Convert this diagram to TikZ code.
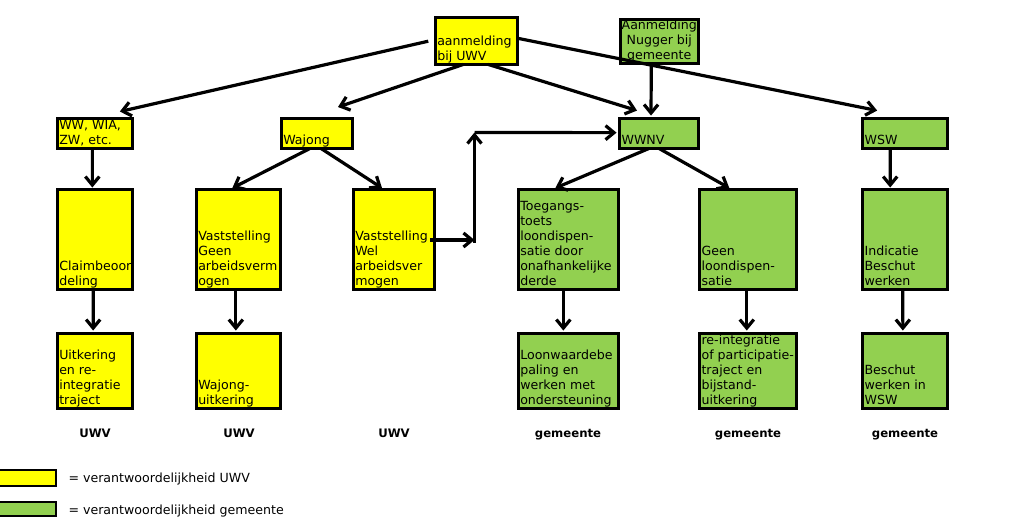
\documentclass[tikz,border=0pt]{standalone}
\usepackage{fontspec}
\setmainfont{DejaVu Sans}
\usetikzlibrary{arrows.meta}
\definecolor{uwv}{RGB}{255,255,0}
\definecolor{gem}{RGB}{146,208,80}
\newcommand\ldp{\rule[-4pt]{0pt}{0pt}}
\begin{document}
\begin{tikzpicture}[x=1pt,y=-1pt,
  box/.style={draw=black, line width=2.9pt, inner sep=0pt, outer sep=0pt},
  ybox/.style={box, fill=uwv},
  gbox/.style={box, fill=gem},
  txt/.style={inner sep=0pt, outer sep=0pt, align=left, text=black,
    font=\fontsize{12.6}{15}\selectfont},
  lbl/.style={inner sep=0pt, font=\fontsize{11.7}{14}\selectfont\bfseries},
  conn/.style={draw=black, line width=3.2pt,
    -{Straight Barb[length=8.5pt,width=14pt]}}
]
\useasboundingbox (0,0) rectangle (1020,518);

% boxes
\node[ybox, minimum width=82pt, minimum height=46.5pt] (aan) at (476.25,41.2) {};
\node[gbox, minimum width=77.5pt, minimum height=44.2pt] (nug) at (659.3,41.65) {};
\node[ybox, minimum width=75.2pt, minimum height=29.9pt] (ww) at (94.85,133.5) {};
\node[ybox, minimum width=71.5pt, minimum height=29.9pt] (waj) at (317,133.5) {};
\node[gbox, minimum width=78.9pt, minimum height=29.9pt] (wwnv) at (659,133.5) {};
\node[gbox, minimum width=85.2pt, minimum height=29.9pt] (wsw) at (905.15,133.5) {};
\node[ybox, minimum width=74.8pt, minimum height=99.9pt] (claim) at (94.65,239.5) {};
\node[ybox, minimum width=84.2pt, minimum height=99.9pt] (vgeen) at (238.35,239.5) {};
\node[ybox, minimum width=81.5pt, minimum height=99.9pt] (vwel) at (394,239.5) {};
\node[gbox, minimum width=100.2pt, minimum height=99.9pt] (toeg) at (568.35,239.5) {};
\node[gbox, minimum width=96.5pt, minimum height=99.9pt] (geen) at (747.8,239.5) {};
\node[gbox, minimum width=84.5pt, minimum height=99.9pt] (indic) at (904.8,239.5) {};
\node[ybox, minimum width=75.2pt, minimum height=74.9pt] (uitk) at (94.85,371) {};
\node[ybox, minimum width=84.2pt, minimum height=74.9pt] (wuitk) at (238.35,371) {};
\node[gbox, minimum width=100.2pt, minimum height=74.9pt] (loon) at (568.35,371) {};
\node[gbox, minimum width=96.9pt, minimum height=74.9pt] (reint) at (748,371) {};
\node[gbox, minimum width=85.2pt, minimum height=74.9pt] (besch) at (905.15,371) {};

% texts
\node[txt, anchor=south west] (aant) at ([xshift=2pt]aan.south west) {aanmelding\\bij UWV\ldp};
\node[txt, align=center, anchor=south] (nugt) at (nug.south) {Aanmelding\\Nugger bij\\gemeente\ldp};
\node[txt, anchor=south west] (wwt) at ([xshift=2pt]ww.south west) {WW, WIA,\\ZW, etc.\ldp};
\node[txt, anchor=south west] (wajt) at ([xshift=2pt]waj.south west) {Wajong\ldp};
\node[txt, anchor=south west] (wwnvt) at ([xshift=2pt]wwnv.south west) {WWNV\ldp};
\node[txt, anchor=south west] (wswt) at ([xshift=2pt]wsw.south west) {WSW\ldp};
\node[txt, anchor=south west] (claimt) at ([xshift=2pt]claim.south west) {Claimbeoor\\deling\ldp};
\node[txt, anchor=south west] (vgeent) at ([xshift=2pt]vgeen.south west) {Vaststelling\\Geen\\arbeidsverm\\ogen\ldp};
\node[txt, anchor=south west] (vwelt) at ([xshift=2pt]vwel.south west) {Vaststelling\\Wel\\arbeidsver\\mogen\ldp};
\node[txt, anchor=south west] (toegt) at ([xshift=2pt]toeg.south west) {Toegangs-\\toets\\loondispen-\\satie door\\onafhankelijke\\derde\ldp};
\node[txt, anchor=south west] (geent) at ([xshift=2pt]geen.south west) {Geen\\loondispen-\\satie\ldp};
\node[txt, anchor=south west] (indict) at ([xshift=2pt]indic.south west) {Indicatie\\Beschut\\werken\ldp};
\node[txt, anchor=south west] (uitkt) at ([xshift=2pt]uitk.south west) {Uitkering\\en re-\\integratie\\traject\ldp};
\node[txt, anchor=south west] (wuitkt) at ([xshift=2pt]wuitk.south west) {Wajong-\\uitkering\ldp};
\node[txt, anchor=south west] (loont) at ([xshift=2pt]loon.south west) {Loonwaardebe\\paling en\\werken met\\ondersteuning\ldp};
\node[txt, anchor=south west] (reintt) at ([xshift=2pt]reint.south west) {re-integratie\\of participatie-\\traject en\\bijstand-\\uitkering\ldp};
\node[txt, anchor=south west] (bescht) at ([xshift=2pt]besch.south west) {Beschut\\werken in\\WSW\ldp};

% column labels
\node[lbl, anchor=base] (l1) at (95,437) {UWV};
\node[lbl, anchor=base] (l2) at (239,437) {UWV};
\node[lbl, anchor=base] (l3) at (394,437) {UWV};
\node[lbl, anchor=base] (l4) at (568,437) {gemeente};
\node[lbl, anchor=base] (l5) at (748,437) {gemeente};
\node[lbl, anchor=base] (l6) at (905,437) {gemeente};

% legend
\node[ybox, minimum width=58pt, minimum height=16pt] (ly) at (27,478) {};
\node[gbox, minimum width=58pt, minimum height=14pt] (lg) at (27,509) {};
\node[txt, anchor=base west] (lyt) at (68.5,482.7) {= verantwoordelijkheid UWV};
\node[txt, anchor=base west] (lgt) at (68.5,514.3) {= verantwoordelijkheid gemeente};

% connectors
\coordinate (c1) at (474.5,240);
\coordinate (c2) at (474.5,132.5);
\draw[conn] ([xshift=-7pt]aan.west) -- ([xshift=25pt,yshift=7pt]ww.north);
\draw[conn] ([xshift=-13pt]aan.south) -- ([xshift=21pt,yshift=11.5pt]waj.north);
\draw[conn] ([xshift=12pt]aan.south) -- ([xshift=-22pt,yshift=8pt]wwnv.north);
\draw[conn] ([yshift=3pt]aan.east) -- ([xshift=-28pt,yshift=8pt]wsw.north);
\draw[conn] ([xshift=-8pt]nug.south) -- ([xshift=-8pt,yshift=3pt]wwnv.north);
\draw[conn] ([xshift=-2.5pt]ww.south) -- ([xshift=-2.3pt,yshift=2pt]claim.north);
\draw[conn] ([xshift=-7pt]waj.south) -- ([xshift=-6pt,yshift=1.5pt]vgeen.north);
\draw[conn] ([xshift=4pt]waj.south) -- ([xshift=-12pt,yshift=1.5pt]vwel.north);
\draw[conn] ([xshift=-5pt,yshift=-0.5pt]vwel.east) -- (c1);
\draw[conn] ([yshift=-3pt]c1) -- (c2);
\draw[conn] (c2) -- ([xshift=-3pt,yshift=0.85pt]wwnv.west);
\draw[conn] ([xshift=-10pt]wwnv.south) -- ([xshift=-13pt,yshift=1.5pt]toeg.north);
\draw[conn] (wwnv.south) -- ([xshift=-18.5pt,yshift=1.5pt]geen.north);
\draw[conn] ([xshift=-15pt]wsw.south) -- ([xshift=-14.6pt,yshift=2pt]indic.north);
\draw[conn] ([xshift=-1.5pt]claim.south) -- ([xshift=-1.7pt,yshift=3pt]uitk.north);
\draw[conn] ([xshift=-2.5pt]vgeen.south) -- ([xshift=-2.5pt,yshift=3pt]wuitk.north);
\draw[conn] ([xshift=-5pt]toeg.south) -- ([xshift=-5pt,yshift=3pt]loon.north);
\draw[conn] ([xshift=-1pt]geen.south) -- ([xshift=-1.2pt,yshift=3pt]reint.north);
\draw[conn] ([xshift=-2pt]indic.south) -- ([xshift=-2.3pt,yshift=3pt]besch.north);
\end{tikzpicture}
\end{document}
